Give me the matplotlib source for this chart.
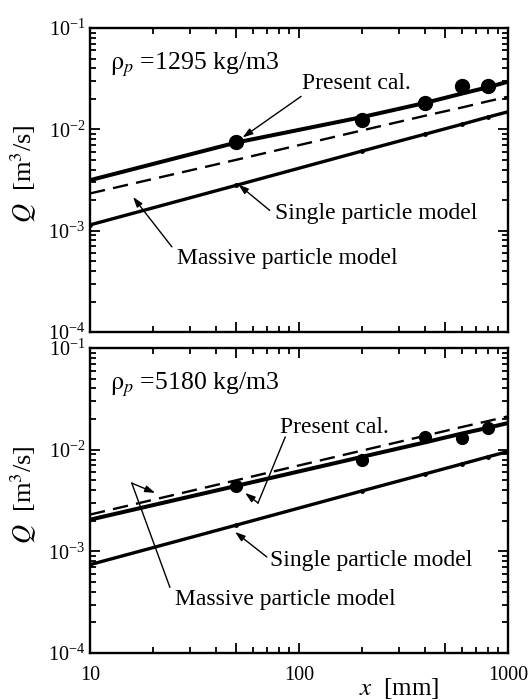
import numpy as np
import matplotlib
matplotlib.use("Agg")
import matplotlib.pyplot as plt
from matplotlib.ticker import FixedLocator, LogLocator, FuncFormatter, NullFormatter

plt.rcParams['font.family'] = ['Liberation Serif', 'DejaVu Serif']
plt.rcParams['mathtext.fontset'] = 'stix'

# ---------------- data ----------------
x_calc = [10, 50, 200, 400, 600, 800, 1000]
x_meas = [50, 200, 400, 600, 800]

# rho_p = 1295 kg/m3
present_1 = [3.15e-3, 7.4e-3, 1.32e-2, 1.82e-2, 2.25e-2, 2.6e-2, 2.95e-2]
massive_1 = [2.33e-3, 5.0e-3, 9.75e-3, 1.36e-2, 1.64e-2, 1.89e-2, 2.1e-2]
single_1 = [1.14e-3, 2.8e-3, 6.1e-3, 8.95e-3, 1.12e-2, 1.32e-2, 1.49e-2]
meas_1 = [7.5e-3, 1.24e-2, 1.8e-2, 2.67e-2, 2.65e-2]

# rho_p = 5180 kg/m3
present_2 = [2.05e-3, 4.4e-3, 8.5e-3, 1.18e-2, 1.44e-2, 1.64e-2, 1.83e-2]
massive_2 = [2.3e-3, 5.0e-3, 9.8e-3, 1.37e-2, 1.67e-2, 1.91e-2, 2.13e-2]
single_2 = [7.4e-4, 1.81e-3, 3.93e-3, 5.77e-3, 7.23e-3, 8.5e-3, 9.6e-3]
meas_2 = [4.35e-3, 8.0e-3, 1.32e-2, 1.30e-2, 1.63e-2]

densities = ["1295", "5180"]
x_ticks = [10, 50, 100, 500, 1000]
x_ticklabels = {10: "10", 100: "100", 1000: "1000"}

# ---------------- figure ----------------
fig = plt.figure(figsize=(5.3, 7.0), dpi=100)
ax1 = fig.add_axes([0.1698, 0.5257, 0.7887, 0.4343])
ax2 = fig.add_axes([0.1698, 0.0671, 0.7887, 0.4357])

panels = [
    (ax1, present_1, massive_1, single_1, meas_1, densities[0], 10),
    (ax2, present_2, massive_2, single_2, meas_2, densities[1], 8.5),
]

for ax, pres, mass, sing, meas, rho, ms in panels:
    ax.set_xscale('log')
    ax.set_yscale('log')
    ax.set_xlim(10, 1000)
    ax.set_ylim(1e-4, 1e-1)
    ax.plot(x_calc, pres, color='black', lw=2.9, solid_capstyle='butt')
    ax.plot(x_calc, mass, color='black', lw=1.7, linestyle=(0, (6.5, 3.5)))
    ax.plot(x_calc, sing, color='black', lw=2.4, marker='o', ms=2.5)
    ax.plot(x_meas, meas, 'o', color='black', ms=ms)

    for sp in ax.spines.values():
        sp.set_linewidth(1.7)
    ax.tick_params(which='both', direction='in', top=True, right=True,
                   labelsize=14.5, width=1.3)
    ax.tick_params(which='major', length=7)
    ax.tick_params(which='minor', length=4)
    ax.tick_params(axis='x', pad=9)
    ax.xaxis.set_major_locator(FixedLocator(x_ticks))
    ax.xaxis.set_minor_locator(LogLocator(base=10, subs=(2, 3, 4, 6, 7, 8, 9)))
    ax.xaxis.set_minor_formatter(NullFormatter())
    ax.xaxis.set_major_formatter(FuncFormatter(lambda v, p: x_ticklabels.get(int(round(v)), "")))
    ax.yaxis.set_major_locator(LogLocator(base=10, numticks=10))
    ax.yaxis.set_minor_locator(LogLocator(base=10, subs=np.arange(2, 10), numticks=10))
    ax.yaxis.set_minor_formatter(NullFormatter())
    ax.set_ylabel(r"$Q$  [m$^3$/s]", fontsize=19)
    ax.yaxis.set_label_coords(-0.122, 0.52)
    ax.text(0.048, 0.88, r"$\mathrm{\rho}_{p}$ =" + rho + " kg/m3", transform=ax.transAxes,
            fontsize=18.5, va='center', ha='left')

ax1.tick_params(axis='x', labelbottom=False)
ax2.set_xlabel(r"$x$  [mm]", fontsize=18)
ax2.xaxis.set_label_coords(0.74, -0.075)

arrow = dict(arrowstyle='-|>,head_length=0.6,head_width=0.2', color='black', lw=1.0,
             shrinkA=0, shrinkB=0)
fs = 17

# top panel annotations
ax1.text(0.507, 0.819, "Present cal.", transform=ax1.transAxes, fontsize=fs, va='center')
ax1.annotate("", xy=(0.365, 0.64), xycoords='axes fraction',
             xytext=(0.505, 0.775), textcoords='axes fraction', arrowprops=arrow)
ax1.text(0.443, 0.391, "Single particle model", transform=ax1.transAxes, fontsize=fs, va='center')
ax1.annotate("", xy=(0.355, 0.485), xycoords='axes fraction',
             xytext=(0.43, 0.40), textcoords='axes fraction', arrowprops=arrow)
ax1.text(0.208, 0.243, "Massive particle model", transform=ax1.transAxes, fontsize=fs, va='center')
ax1.annotate("", xy=(0.103, 0.444), xycoords='axes fraction',
             xytext=(0.196, 0.28), textcoords='axes fraction', arrowprops=arrow)

# bottom panel annotations
ax2.text(0.455, 0.741, "Present cal.", transform=ax2.transAxes, fontsize=fs, va='center')
ax2.plot([0.467, 0.402], [0.708, 0.492], transform=ax2.transAxes, color='black', lw=1.0)
ax2.annotate("", xy=(0.371, 0.525), xycoords='axes fraction',
             xytext=(0.402, 0.492), textcoords='axes fraction', arrowprops=arrow)
ax2.text(0.431, 0.305, "Single particle model", transform=ax2.transAxes, fontsize=fs, va='center')
ax2.annotate("", xy=(0.347, 0.397), xycoords='axes fraction',
             xytext=(0.423, 0.315), textcoords='axes fraction', arrowprops=arrow)
ax2.text(0.203, 0.174, "Massive particle model", transform=ax2.transAxes, fontsize=fs, va='center')
ax2.plot([0.191, 0.100], [0.216, 0.557], transform=ax2.transAxes, color='black', lw=1.0)
ax2.annotate("", xy=(0.156, 0.525), xycoords='axes fraction',
             xytext=(0.100, 0.557), textcoords='axes fraction', arrowprops=arrow)

fig.savefig("out.png", dpi=100)
